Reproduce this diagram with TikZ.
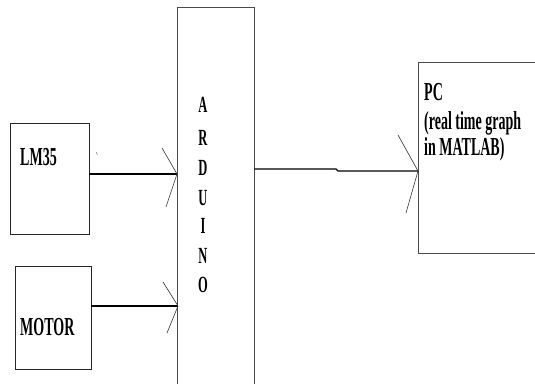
\documentclass[tikz,border=0pt]{standalone}
\usepackage{fontspec}
\usepackage{graphicx}
\setmainfont{Liberation Serif}
\newcommand\stre[1]{\scalebox{1}[1.85]{#1}}
\tikzset{
  blk/.style={draw=black!85, line width=0.9pt, inner sep=0pt},
  lbl/.style={inner sep=0pt, font=\bfseries\fontsize{14}{14}\selectfont},
  albl/.style={inner sep=0pt, anchor=base, font=\bfseries\fontsize{12.5}{12.5}\selectfont},
  wire/.style={draw=black, line width=1.1pt},
  head/.style={draw=black!80, line width=0.6pt},
}
\begin{document}
\begin{tikzpicture}[x=1pt,y=-1pt]
\useasboundingbox (0,0) rectangle (535,383);
\fill[white] (0,0) rectangle (535,383);
% boxes
\node[blk, minimum width=79pt, minimum height=111pt] (lm) at (49.5,178.5) {};
\node[blk, minimum width=76pt, minimum height=103pt] (mot) at (53,317.5) {};
\node[blk, draw=black!70, minimum width=77pt, minimum height=385pt] (ard) at (215.5,199.5) {};
\node[blk, draw=black!70, minimum width=121pt, minimum height=191pt] (pc) at (478.5,157.5) {};
% labels
\node[lbl, anchor=base west] (tlm) at (20,165) {\stre{LM35}};
\node[lbl, anchor=base west] (tmot) at (20,335) {\stre{MOTOR}};
\node[lbl, anchor=base west] (tpc1) at (424,100) {\stre{PC}};
\node[lbl, anchor=base west] (tpc2) at (424,129) {\stre{(real time graph}};
\node[lbl, anchor=base west] (tpc3) at (424,155) {\stre{in MATLAB)}};
\foreach \l/\y [count=\i] in {A/112,R/145,D/175,U/205,I/233,N/263,O/292}
  \node[albl] (ard\i) at (203,\y) {\stre{\l}};
% arrow tips
\coordinate (t1) at (177,174);
\coordinate (t2) at (178,306);
\coordinate (t3) at (418,171);
\coordinate (s3) at (254,169);
% connectors
\draw[wire] (lm.east |- t1) -- (t1);
\draw[head] (t1) -- ++(-15,-26);
\draw[head] (t1) -- ++(-11,33);
\draw[wire] (mot.east |- t2) -- (t2);
\draw[head] (t2) -- ++(-15,-24);
\draw[head] (t2) -- ++(-11,27);
\draw[wire] (ard.east |- s3) -- (336,169) -- (338,171) -- (t3);
\draw[head] (t3) -- ++(-20,-36);
\draw[head] (t3) -- ++(-12,42);
% stray tick
\draw[black!60, line width=0.5pt] (96.5,152) -- (97.3,155);
\end{tikzpicture}
\end{document}
